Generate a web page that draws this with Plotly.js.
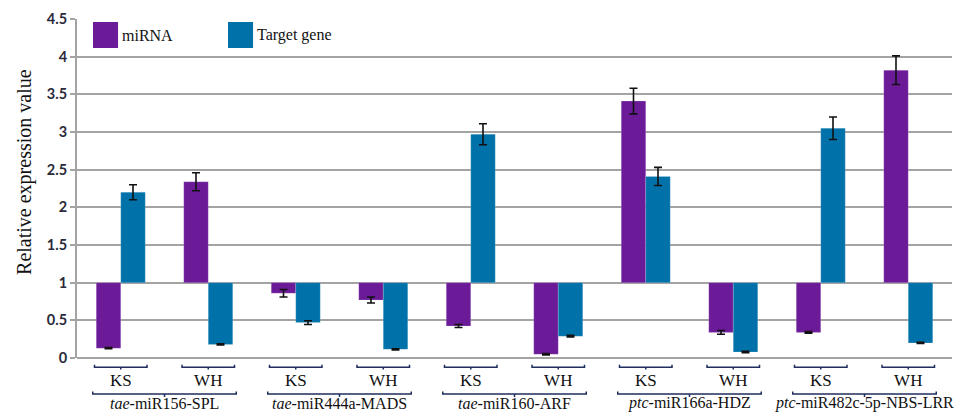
<!DOCTYPE html>
<html>
<head>
<meta charset="utf-8">
<script src="https://cdn.plot.ly/plotly-3.0.1.min.js"></script>
<style>
  html, body { margin: 0; padding: 0; background: #fff; }
  #chart { width: 965px; height: 412px; }
</style>
</head>
<body>
<div id="chart"></div>
<script>
// Relative expression of miRNAs and their target genes (KS vs WH)
const conditions = ['KS', 'WH', 'KS', 'WH', 'KS', 'WH', 'KS', 'WH', 'KS', 'WH'];
const pairPrefixes = ['tae', 'tae', 'tae', 'ptc', 'ptc'];
const pairNames = ['-miR156-SPL', '-miR444a-MADS', '-miR160-ARF', '-miR166a-HDZ', '-miR482c-5p-NBS-LRR'];

const mirnaValues  = [0.13, 2.34, 0.86, 0.77, 0.425, 0.05, 3.41, 0.34, 0.34, 3.82];
const mirnaErrors  = [0.008, 0.12, 0.05, 0.04, 0.02, 0.008, 0.17, 0.025, 0.01, 0.19];
const targetValues = [2.20, 0.18, 0.47, 0.115, 2.97, 0.29, 2.41, 0.08, 3.05, 0.20];
const targetErrors = [0.10, 0.008, 0.025, 0.008, 0.14, 0.01, 0.12, 0.008, 0.15, 0.008];

const seriesNames = ['miRNA', 'Target gene'];
const seriesColors = ['#6B1A98', '#0071A9'];

// Bars grow up or down from a reference level of 1
const REF = 1;
const idx = conditions.map((_, i) => i);

function barTrace(name, vals, errs, color) {
  return {
    type: 'bar',
    name: name,
    x: idx,
    base: vals.map(() => REF),
    y: vals.map(v => v - REF),
    marker: { color: color, line: { color: 'rgba(255,255,255,0.35)', width: 0.5 } },
    error_y: { type: 'data', array: errs, visible: true, color: '#111', thickness: 1.6, width: 4 },
    hovertemplate: name + ': %{customdata}<extra></extra>',
    customdata: vals,
    showlegend: false
  };
}

const traces = [
  barTrace(seriesNames[0], mirnaValues, mirnaErrors, seriesColors[0]),
  barTrace(seriesNames[1], targetValues, targetErrors, seriesColors[1])
];

const bracketColor = '#1F2E5E';
const serif = 'Liberation Serif, Times New Roman, serif';
const shapes = [];
const annotations = [];

// Bracket under each condition label
const smallHalf = 0.30;
idx.forEach(i => {
  shapes.push({
    type: 'path', xref: 'x', yref: 'paper',
    path: `M ${i - smallHalf},-0.020 L ${i - smallHalf},-0.0274 L ${i + smallHalf},-0.0274 L ${i + smallHalf},-0.020 M ${i},-0.0274 L ${i},-0.034`,
    line: { color: bracketColor, width: 1.5 }
  });
});

// Bracket and italic-prefixed name under each miRNA/target pair
const bigHalf = 0.32;
pairNames.forEach((nm, g) => {
  const a = 2 * g, b = 2 * g + 1, c = (a + b) / 2;
  shapes.push({
    type: 'path', xref: 'x', yref: 'paper',
    path: `M ${a - bigHalf},-0.0985 L ${a - bigHalf},-0.1062 L ${b + bigHalf},-0.1062 L ${b + bigHalf},-0.0985 M ${c},-0.1062 L ${c},-0.115`,
    line: { color: bracketColor, width: 1.5 }
  });
  annotations.push({
    xref: 'x', yref: 'paper', x: c, y: -0.134, yanchor: 'middle', xanchor: 'center',
    text: '<i>' + pairPrefixes[g] + '</i>' + nm, showarrow: false,
    font: { family: serif, size: 16, color: '#111' }
  });
});

// Legend with large swatches
const legendX = [0.0183, 0.1726];
seriesNames.forEach((nm, k) => {
  shapes.push({
    type: 'rect', xref: 'paper', yref: 'paper',
    x0: legendX[k], x1: legendX[k] + 0.0286, y0: 0.9145, y1: 0.9912,
    fillcolor: seriesColors[k], line: { width: 0 }
  });
  annotations.push({
    xref: 'paper', yref: 'paper', x: legendX[k] + 0.0306, y: 0.9528,
    xanchor: 'left', yanchor: 'middle', text: nm, showarrow: false,
    font: { family: serif, size: 16, color: '#111' }
  });
});

// Y axis title
annotations.push({
  xref: 'paper', yref: 'paper', x: -0.0594, y: 0.549, textangle: -90,
  xanchor: 'center', yanchor: 'middle', showarrow: false,
  text: 'Relative expression value',
  font: { family: serif, size: 20, color: '#111' }
});

const layout = {
  width: 965, height: 412,
  margin: { l: 77, r: 13, t: 19, b: 54 },
  paper_bgcolor: '#fff', plot_bgcolor: '#fff',
  barmode: 'group', bargap: 0.44, bargroupgap: 0,
  showlegend: false,
  xaxis: {
    range: [-0.5, 9.5],
    tickmode: 'array', tickvals: idx, ticktext: conditions,
    ticks: '', showgrid: false, zeroline: false, showline: false,
    ticklabelstandoff: 10,
    tickfont: { family: serif, size: 17, color: '#111' }
  },
  yaxis: {
    range: [0, 4.5], dtick: 0.5, tick0: 0,
    showgrid: true, gridcolor: '#A3A3A3', gridwidth: 2,
    zeroline: true, zerolinecolor: '#A3A3A3', zerolinewidth: 2,
    showline: true, linecolor: '#A3A3A3', linewidth: 2,
    ticks: 'outside', ticklen: 5, tickwidth: 2, tickcolor: '#A3A3A3',
    tickfont: { family: 'Lato, Liberation Sans, sans-serif', size: 14.5, color: '#2a2a3a', weight: 'bold' }
  },
  shapes: shapes,
  annotations: annotations
};

Plotly.newPlot('chart', traces, layout, { displayModeBar: false, staticPlot: true });
</script>
</body>
</html>
